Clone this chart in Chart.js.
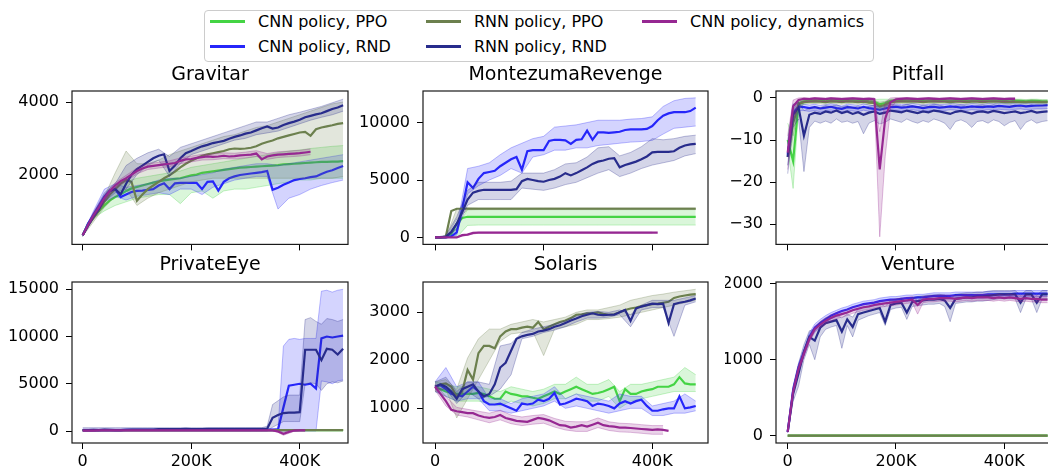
<!DOCTYPE html>
<html>
<head>
<meta charset="utf-8">
<script src="https://cdn.jsdelivr.net/npm/chart.js@4.4.1/dist/chart.umd.min.js"></script>
<style>
  html, body { margin: 0; padding: 0; background: #fff; width: 1048px; height: 469px; overflow: hidden; }
  body { position: relative; font-family: "DejaVu Sans", sans-serif; }
  canvas { position: absolute; }
  #legend { position: absolute; left: 204px; top: 10px; width: 668px; height: 50px;
            border: 1px solid #ccc; border-radius: 4px; background: #fff; }
  .lg-text { position: absolute; height: 20px; line-height: 20px; font-size: 16px; color: #000; white-space: nowrap; }
  .lg-line { position: absolute; height: 3px; width: 35px; }
</style>
</head>
<body>
<div id="legend"></div>
<script>
// series, in plotting order
const seriesNames = ["CNN policy, PPO", "CNN policy, RND", "RNN policy, PPO", "RNN policy, RND", "CNN policy, dynamics"];
const seriesRgb = ["68,212,68", "38,38,250", "108,128,78", "40,44,140", "150,40,146"];

const xTicks = [0, 200000, 400000];
const meanStep = 10000; // all mean curves are sampled every 10K frames

// ---------------- Gravitar ----------------
const gravYTicks = [2000, 4000];
const gravCnnPpo = [330,650,850,1000,1150,1290,1380,1460,1550,1620,1660,1700,1740,1780,1810,1840,1860,1880,1900,1940,1980,2000,2050,2070,2090,2110,2130,2150,2170,2190,2200,2210,2220,2230,2240,2250,2260,2280,2290,2300,2310,2320,2330,2340,2350,2350,2360,2360,2370];
const gravCnnRnd = [330,650,900,1150,1400,1560,1600,1380,1450,1520,1550,1560,1580,1600,1700,1760,1600,1760,1770,1770,1770,1770,1600,1800,1810,1560,1800,1900,1950,1990,2010,2030,2050,2070,2100,1580,1640,1720,1780,1850,1880,1900,1930,1950,2020,2080,2120,2180,2240];
const gravRnnPpo = [330,600,800,1000,1250,1450,1600,1750,1850,1800,1280,1450,1600,1700,1800,1900,1980,2080,2200,2300,2380,2450,2520,2560,2590,2620,2650,2700,2720,2710,2720,2740,2780,2850,2900,2940,3000,3040,3080,3120,3160,3180,3070,3250,3300,3330,3360,3400,3420];
const gravRnnRnd = [330,600,850,1050,1350,1550,1600,1460,1750,2000,2150,2250,2350,2450,2520,2560,2100,2250,2450,2590,2650,2720,2780,2820,2870,2900,2930,2990,3040,3080,3130,3160,3220,3280,3330,3270,3300,3370,3420,3460,3510,3580,3620,3660,3690,3750,3810,3850,3910];
const gravDyn = [330,620,880,1100,1350,1550,1700,1820,1900,2000,2100,2170,2220,2240,2260,2280,2300,2320,2380,2420,2430,2460,2480,2500,2490,2500,2520,2500,2510,2530,2540,2550,2580,2420,2500,2530,2550,2560,2570,2580,2590,2610,2630];
// bands every 20K
const gravCnnPpoLo = [300,800,1000,1150,1250,1350,1400,1450,1450,1200,1500,1550,1350,1550,1600,1600,1650,1700,1750,1800,1850,1850,1900,1900,1900];
const gravCnnPpoHi = [360,900,1350,1600,1800,1900,1950,2000,2050,2100,2200,2250,2300,2350,2400,2450,2500,2550,2600,2650,2680,2720,2750,2780,2800];
const gravCnnRndLo = [300,850,1250,1400,1300,1400,1450,1500,1450,1600,1600,1450,1650,1750,1850,1900,1950,1950,1050,1350,1450,1600,1700,1780,1850];
const gravCnnRndHi = [360,1000,1600,1750,1650,1700,1750,1850,1900,1900,1950,2000,2050,2150,2200,2250,2300,2300,2250,2300,2350,2400,2450,2500,2550];
const gravRnnPpoLo = [300,700,1100,1400,1600,1150,1350,1500,1600,1700,1800,1850,1900,1900,1900,1900,1900,1900,1900,1900,1900,1900,1900,1900,1950];
const gravRnnPpoHi = [360,900,1400,2050,2650,2300,2300,2400,2550,2650,2750,2850,2950,3050,3100,3200,3300,3350,3450,3550,3650,3750,3850,3950,4000];
const gravRnnRndLo = [300,800,1250,1500,1600,2000,2250,2400,1950,2300,2550,2650,2750,2850,2950,3000,3100,3150,3200,3300,3400,3500,3580,3650,3750];
const gravRnnRndHi = [360,950,1500,1750,2250,2450,2600,2700,2500,2750,2850,2950,3050,3150,3250,3350,3450,3450,3550,3650,3720,3800,3880,3980,4080];
const gravDynLo = [300,800,1270,1620,1820,2020,2140,2180,2220,2300,2350,2400,2410,2440,2430,2460,2500,2420,2470,2490,2510,2550];
const gravDynHi = [360,960,1430,1780,1980,2180,2300,2340,2380,2460,2510,2560,2570,2600,2590,2620,2660,2580,2630,2650,2670,2710];

// ---------------- MontezumaRevenge ----------------
const montYTicks = [0, 5000, 10000];
const montCnnPpo = [0,0,0,300,1200,1700,1800,1800,1800,1800,1800,1800,1800,1800,1800,1800,1800,1800,1800,1800,1800,1800,1800,1800,1800,1800,1800,1800,1800,1800,1800,1800,1800,1800,1800,1800,1800,1800,1800,1800,1800,1800,1800,1800,1800,1800,1800,1800,1800];
const montCnnRnd = [0,0,0,100,450,2500,4800,4300,5100,5600,5700,5800,6200,6500,6800,7000,5900,7500,7600,7600,7600,8400,8500,8500,8450,8150,8500,8550,9300,8500,9150,9150,9100,9150,9200,9350,9400,9400,9400,9450,9700,10200,10600,10800,10900,10900,10900,11000,11300];
const montRnnPpo = [0,0,100,2300,2500,2500,2500,2500,2500,2500,2500,2500,2500,2500,2500,2500,2500,2500,2500,2500,2500,2500,2500,2500,2500,2500,2500,2500,2500,2500,2500,2500,2500,2500,2500,2500,2500,2500,2500,2500,2500,2500,2500,2500,2500,2500,2500,2500,2500];
const montRnnRnd = [0,0,50,500,1200,2200,3300,3900,4050,4150,4150,4150,4150,4150,4150,4200,4900,5100,5000,4900,4850,5000,5100,5300,5600,5400,5600,5850,6100,6400,6600,6700,6850,6900,6100,6300,6450,6600,6800,7050,7400,7450,7450,7450,7500,7800,8000,8100,8150];
const montDyn = [0,0,0,0,0,200,250,400,420,420,420,420,420,420,420,420,420,420,420,420,420,420,420,420,420,420,420,420,420,420,420,420,420,420,420,420,420,420,420,420,420,420];
const montCnnPpoLo = [0,0,0,1050,1080,1080,1080,1080,1080,1080,1080,1080,1080,1080,1080,1080,1080,1080,1080,1080,1080,1080,1080,1080,1080];
const montCnnPpoHi = [0,0,800,2450,2500,2500,2500,2500,2500,2500,2500,2500,2500,2500,2500,2500,2500,2500,2500,2500,2500,2500,2500,2500,2500];
const montCnnRndLo = [0,0,200,3800,4500,5000,5400,6000,5600,7000,7200,7600,7600,7800,7800,8000,8100,8200,8300,8350,8450,9000,9500,9600,9700];
const montCnnRndHi = [0,0,800,6000,6200,6500,7200,7800,8200,8600,8800,9600,9700,9800,10000,10200,10200,10200,10300,10350,10500,11400,11900,12100,12150];
const montRnnPpoLo = [0,0,1600,2400,2420,2420,2420,2420,2420,2420,2420,2420,2420,2420,2420,2420,2420,2420,2420,2420,2420,2420,2420,2420,2420];
const montRnnPpoHi = [0,0,2500,2600,2580,2580,2580,2580,2580,2580,2580,2580,2580,2580,2580,2580,2580,2580,2580,2580,2580,2580,2580,2580,2580];
const montRnnRndLo = [0,0,700,2800,3300,3300,3300,3300,4300,4200,4100,4300,4600,4800,5200,5600,5900,5300,5600,6000,6300,6500,6700,7100,7300];
const montRnnRndHi = [0,200,1800,4100,4800,4800,4800,4900,5600,5600,5600,5900,6400,6500,7000,7800,7900,7100,7400,7900,8600,8500,8600,8800,8900];
const montDynLo = [0,0,0,200,380,380,380,380,380,380,380,380,380,380,380,380,380,380,380,380,380];
const montDynHi = [0,0,0,300,460,460,460,460,460,460,460,460,460,460,460,460,460,460,460,460,460];

// ---------------- Pitfall (bands every 10K) ----------------
const pitYTicks = [-30, -20, -10, 0];
const pitCnnPpo = [-10,-15,-1.2,-0.8,-0.7,-0.6,-0.6,-0.8,-0.5,-0.6,-0.7,-0.5,-0.6,-0.7,-0.6,-0.8,-0.9,-1.5,-1.2,-0.7,-0.6,-0.5,-0.6,-0.5,-0.6,-0.7,-0.6,-0.5,-0.6,-0.6,-0.7,-0.6,-0.6,-0.7,-0.6,-0.6,-0.7,-0.6,-0.6,-0.6,-0.7,-0.8,-0.7,-0.7,-0.8,-0.7,-0.7,-0.8,-0.8];
const pitCnnRnd = [-13.5,-3.5,-2,-2.2,-2.4,-2.2,-2.5,-2.3,-2.1,-2.4,-2.6,-2.2,-2.3,-2.5,-2.1,-2.4,-2.6,-2.8,-2.5,-2.2,-2.1,-2.3,-2.2,-2,-2.2,-2.4,-2.2,-2.1,-2.3,-2.2,-2,-2.1,-2.3,-2.2,-2,-2.1,-2.2,-2,-2.1,-1.9,-2,-2.1,-1.9,-1.8,-2,-1.9,-1.8,-1.8,-1.7];
const pitRnnPpo = [-14,-6,-1.5,-1,-0.9,-0.8,-0.9,-1,-0.8,-0.9,-1,-0.8,-0.9,-1,-0.9,-1.1,-1.2,-2,-1.6,-1,-0.9,-0.8,-0.9,-0.8,-0.9,-1,-0.9,-0.8,-0.9,-0.9,-1,-0.9,-0.9,-1,-0.9,-0.9,-1,-0.9,-0.9,-0.9,-1,-1,-0.9,-1,-1,-0.9,-1,-1,-1];
const pitRnnRnd = [-14,-4,-2.2,-9,-4,-3.5,-3.8,-3.2,-3.5,-3,-3.6,-3.2,-3.8,-3.4,-4,-3.5,-3.2,-3.8,-3.5,-3,-3.2,-3.4,-3,-3.3,-3.6,-3.2,-3.4,-3,-3.2,-3.5,-3.8,-3.3,-3.1,-3.4,-3.7,-3.3,-3.2,-3.5,-3.1,-3.3,-3.6,-3.4,-3.2,-3.6,-3.4,-3.1,-3.5,-3.3,-3.2];
const pitDyn = [-13,-2,-0.5,-0.2,-0.3,-0.1,-0.2,-0.3,-0.1,-0.2,-0.3,-0.2,-0.1,-0.2,-0.3,-0.2,-0.3,-17,-5,-1,-0.3,-0.2,-0.1,-0.2,-0.3,-0.2,-0.1,-0.2,-0.3,-0.2,-0.1,-0.2,-0.3,-0.2,-0.1,-0.2,-0.3,-0.2,-0.1,-0.2,-0.3,-0.2,-0.2];
const pitCnnPpoLo = [-12,-21.5,-3,-1.2,-1.1,-1,-1,-1.2,-0.9,-1,-1.1,-0.9,-1,-1.1,-1,-1.2,-1.4,-3,-2.2,-1.1,-1,-0.9,-1,-0.9,-1,-1.1,-1,-0.9,-1,-1,-1.1,-1,-1,-1.1,-1,-1,-1.1,-1,-1,-1,-1.1,-1.2,-1.1,-1.1,-1.2,-1.1,-1.1,-1.2,-1.2];
const pitCnnPpoHi = [-6,-9,-0.5,-0.4,-0.3,-0.2,-0.2,-0.4,-0.1,-0.2,-0.3,-0.1,-0.2,-0.3,-0.2,-0.4,-0.4,-0.3,-0.3,-0.3,-0.2,-0.1,-0.2,-0.1,-0.2,-0.3,-0.2,-0.1,-0.2,-0.2,-0.3,-0.2,-0.2,-0.3,-0.2,-0.2,-0.3,-0.2,-0.2,-0.2,-0.3,-0.4,-0.3,-0.3,-0.4,-0.3,-0.3,-0.4,-0.4];
const pitCnnRndLo = [-16,-6,-3,-3,-3.2,-3,-3.3,-3.1,-2.9,-3.2,-3.4,-3,-3.1,-3.3,-2.9,-3.2,-3.4,-3.8,-3.3,-3,-2.9,-3.1,-3,-2.8,-3,-3.2,-3,-2.9,-3.1,-3,-2.8,-2.9,-3.1,-3,-2.8,-2.9,-3,-2.8,-2.9,-2.7,-2.8,-2.9,-2.7,-2.6,-2.8,-2.7,-2.6,-2.6,-2.5];
const pitCnnRndHi = [-11,-1.5,-1.3,-1.5,-1.7,-1.5,-1.8,-1.6,-1.4,-1.7,-1.9,-1.5,-1.6,-1.8,-1.4,-1.7,-1.9,-2,-1.8,-1.5,-1.4,-1.6,-1.5,-1.3,-1.5,-1.7,-1.5,-1.4,-1.6,-1.5,-1.3,-1.4,-1.6,-1.5,-1.3,-1.4,-1.5,-1.3,-1.4,-1.2,-1.3,-1.4,-1.2,-1.1,-1.3,-1.2,-1.1,-1.1,-1];
const pitRnnPpoLo = [-16,-9,-2.5,-1.5,-1.4,-1.3,-1.4,-1.5,-1.3,-1.4,-1.5,-1.3,-1.4,-1.5,-1.4,-1.6,-1.8,-3,-2.4,-1.5,-1.4,-1.3,-1.4,-1.3,-1.4,-1.5,-1.4,-1.3,-1.4,-1.4,-1.5,-1.4,-1.4,-1.5,-1.4,-1.4,-1.5,-1.4,-1.4,-1.4,-1.5,-1.5,-1.4,-1.5,-1.5,-1.4,-1.5,-1.5,-1.5];
const pitRnnPpoHi = [-12,-3,-0.6,-0.5,-0.4,-0.3,-0.4,-0.5,-0.3,-0.4,-0.5,-0.3,-0.4,-0.5,-0.4,-0.6,-0.6,-1,-0.8,-0.5,-0.4,-0.3,-0.4,-0.3,-0.4,-0.5,-0.4,-0.3,-0.4,-0.4,-0.5,-0.4,-0.4,-0.5,-0.4,-0.4,-0.5,-0.4,-0.4,-0.4,-0.5,-0.5,-0.4,-0.5,-0.5,-0.4,-0.5,-0.5,-0.5];
const pitRnnRndLo = [-18,-7,-5,-17.5,-7,-5.5,-6,-5.5,-6,-5,-5.8,-5.5,-6,-5.6,-8.5,-6,-5.4,-6.2,-5.8,-5,-5.4,-5.8,-5,-5.6,-6,-5.4,-5.8,-5,-5.4,-6,-7.5,-5.6,-5.2,-5.8,-7,-5.6,-5.4,-6,-5.2,-5.6,-6.6,-5.8,-5.4,-7.5,-5.8,-5.2,-6,-5.6,-5.4];
const pitRnnRndHi = [-10,-1.5,-1,-3,-2.5,-2,-2.3,-1.8,-2,-1.6,-2.1,-1.8,-2.3,-1.9,-2.4,-2,-1.7,-2.3,-2,-1.6,-1.7,-1.9,-1.5,-1.8,-2.1,-1.7,-1.9,-1.5,-1.7,-2,-2.3,-1.8,-1.6,-1.9,-2.2,-1.8,-1.7,-2,-1.6,-1.8,-2.1,-1.9,-1.7,-2.1,-1.9,-1.6,-2,-1.8,-1.7];
const pitDynLo = [-17,-5,-1.2,-0.8,-0.9,-0.7,-0.8,-0.9,-0.7,-0.8,-0.9,-0.8,-0.7,-0.8,-0.9,-0.8,-0.9,-33,-14,-2.5,-0.9,-0.8,-0.7,-0.8,-0.9,-0.8,-0.7,-0.8,-0.9,-0.8,-0.7,-0.8,-0.9,-0.8,-0.7,-0.8,-0.9,-0.8,-0.7,-0.8,-0.9,-0.8,-0.8];
const pitDynHi = [-9,-0.5,0,0.1,0,0.1,0.1,0,0.1,0.1,0,0.1,0.1,0.1,0,0.1,0,-8,-1,0,0.1,0.1,0.1,0.1,0,0.1,0.1,0.1,0,0.1,0.1,0.1,0,0.1,0.1,0.1,0,0.1,0.1,0.1,0,0.1,0.1];

// ---------------- PrivateEye (bands every 10K) ----------------
const peYTicks = [0, 5000, 10000, 15000];
const peCnnPpo = [100,100,100,100,100,100,100,100,100,100,100,100,100,100,100,100,100,100,100,100,100,100,100,100,100,100,100,100,100,100,100,100,100,100,100,100,100,100,100,100,100,100,100,100,100,100,100,100,100];
const peCnnRnd = [80,80,90,90,100,100,100,100,110,110,110,120,120,120,130,130,130,130,140,140,140,140,150,150,150,150,150,150,160,160,160,160,160,160,160,160,150,2500,4800,4900,5000,4900,5000,4500,9800,10000,9900,10000,10100];
const peRnnPpo = [100,100,100,100,100,100,100,100,100,100,100,100,100,100,100,100,100,100,100,100,100,100,100,100,100,100,100,100,100,100,100,100,100,100,100,100,100,100,100,100,100,100,100,100,100,100,100,100,100];
const peRnnRnd = [100,100,120,100,150,120,100,100,130,150,150,150,150,160,200,200,200,200,200,220,200,200,200,220,220,220,220,220,220,220,220,220,220,220,250,1400,1700,1900,1950,1950,2000,8600,8600,8600,7500,8700,8600,8100,8700];
const peDyn = [50,50,50,60,60,60,60,60,60,60,60,60,60,60,60,60,60,60,60,60,60,60,60,60,60,60,60,60,60,60,60,60,60,60,60,60,-50,-300,-100,50,60,60];
const peCnnPpoLo = [40,40,40,40,40,40,40,40,40,40,40,40,40,40,40,40,40,40,40,40,40,40,40,40,40,40,40,40,40,40,40,40,40,40,40,40,40,40,40,40,40,40,40,40,40,40,40,40,40];
const peCnnPpoHi = [160,160,160,160,160,160,160,160,160,160,160,160,160,160,160,160,160,160,160,160,160,160,160,160,160,160,160,160,160,160,160,160,160,160,160,160,160,160,160,160,160,160,160,160,160,160,160,160,160];
const peCnnRndLo = [0,0,0,0,0,0,0,0,0,0,0,0,0,0,0,0,0,0,0,0,0,0,0,0,0,0,0,0,0,0,0,0,0,0,0,0,0,0,0,0,0,0,0,0,5300,5200,5000,5300,5400];
const peCnnRndHi = [200,200,200,200,200,200,200,200,200,200,200,200,200,200,200,200,200,200,200,200,200,200,200,200,200,200,200,200,200,200,200,200,200,200,200,200,300,9000,9700,9800,9700,9800,9800,9800,14800,14900,14700,14900,15000];
const peRnnPpoLo = [60,60,60,60,60,60,60,60,60,60,60,60,60,60,60,60,60,60,60,60,60,60,60,60,60,60,60,60,60,60,60,60,60,60,60,60,60,60,60,60,60,60,60,60,60,60,60,60,60];
const peRnnPpoHi = [140,140,140,140,140,140,140,140,140,140,140,140,140,140,140,140,140,140,140,140,140,140,140,140,140,140,140,140,140,140,140,140,140,140,140,140,140,140,140,140,140,140,140,140,140,140,140,140,140];
const peRnnRndLo = [0,0,0,0,0,0,0,0,0,0,0,0,0,0,0,0,0,0,0,0,0,0,0,0,0,0,0,0,0,0,0,0,0,0,0,400,700,1000,1000,1000,1000,5000,5100,5000,4300,5000,5200,5100,5300];
const peRnnRndHi = [350,350,350,350,350,350,350,350,350,350,350,350,350,350,350,350,350,350,350,350,350,350,350,350,350,350,350,350,350,350,350,350,350,350,500,2800,3200,3600,3800,3800,3800,11800,12000,11600,11300,11900,11800,11600,11800];
const peDynLo = [0,0,0,0,0,0,0,0,0,0,0,0,0,0,0,0,0,0,0,0,0,0,0,0,0,0,0,0,0,0,0,0,0,0,0,0,-150,-450,-250,-20,0,0];
const peDynHi = [120,120,120,120,120,120,120,120,120,120,120,120,120,120,120,120,120,120,120,120,120,120,120,120,120,120,120,120,120,120,120,120,120,120,120,120,50,-150,50,120,120,120];

// ---------------- Solaris ----------------
const solYTicks = [1000, 2000, 3000];
const solCnnPpo = [1450,1400,1350,1320,1300,1300,1300,1300,1320,1300,1250,1200,1200,1350,1300,1280,1250,1250,1220,1200,1250,1300,1350,1300,1350,1400,1450,1400,1350,1300,1320,1350,1400,1450,1150,1400,1300,1300,1350,1380,1400,1450,1450,1450,1500,1650,1520,1500,1500];
const solCnnRnd = [1450,1480,1400,1300,1280,1250,1350,1450,1350,1150,1080,1080,1100,1050,1000,950,1100,1080,1100,1180,1150,1200,1320,1080,1100,1150,1200,1180,1150,1050,1100,1080,1050,1000,1100,1150,1100,1150,1180,1050,950,950,980,1000,1000,1250,1000,1020,1050];
const solRnnPpo = [1450,1500,1520,1450,1250,1350,1800,1600,2150,2300,2300,2250,2500,2600,2650,2650,2680,2700,2680,2800,2650,2700,2750,2800,2830,2880,2950,2960,2980,2980,3000,2970,2950,2960,3000,3050,3080,3100,3130,3150,3170,3180,3200,3220,3300,3330,3350,3370,3380];
const solRnnRnd = [1450,1500,1450,1350,1200,1400,1450,1500,1350,1250,1300,1500,1850,1950,2200,2450,2500,2530,2550,2600,2620,2650,2700,2730,2780,2830,2870,2920,2950,2980,2950,2940,2950,2950,3000,3050,2820,3080,3120,3150,3180,3170,3180,2780,3170,3200,3220,3250,3290];
const solDyn = [1450,1300,1150,970,940,920,900,900,850,820,800,820,860,800,770,740,730,720,760,800,780,750,700,650,640,600,620,650,620,660,700,650,630,620,600,600,590,580,570,560,550,560,550,530];
const solCnnPpoLo = [1350,1250,1150,1150,1150,1100,1050,1150,1100,1050,1100,1200,1200,1300,1150,1150,1250,1000,1150,1200,1250,1300,1350,1350,1350];
const solCnnPpoHi = [1550,1500,1450,1450,1450,1400,1350,1450,1400,1350,1400,1500,1500,1650,1500,1500,1600,1350,1500,1500,1550,1600,1650,1850,1700];
const solCnnRndLo = [1350,1250,1150,1200,1200,950,950,900,950,1000,1050,1150,1000,1050,1000,950,900,950,1000,1000,850,850,900,900,950];
const solCnnRndHi = [1550,1850,1450,1550,1550,1200,1200,1100,1200,1250,1300,1450,1200,1300,1250,1200,1150,1300,1250,1250,1050,1100,1150,1300,1150];
const solRnnPpoLo = [1350,1400,800,1200,1600,2000,2400,2550,2580,2600,2100,2650,2700,2750,2850,2850,2870,2900,2950,3000,3050,3100,3150,3200,3250];
const solRnnPpoHi = [1550,1600,1400,2050,2450,2650,2650,2750,2800,2850,2800,2850,2900,3000,3050,3050,3100,3150,3250,3300,3350,3380,3420,3450,3480];
const solRnnRndLo = [1400,1400,1100,1350,1200,1250,1400,1700,2450,2500,2580,2630,2700,2800,2880,2880,2900,2950,2700,3050,3100,3100,2500,3150,3220];
const solRnnRndHi = [1550,1650,1350,1550,1550,1500,2300,2350,2580,2650,2700,2750,2820,2920,3000,3020,3000,3050,2950,3150,3250,3250,3250,3300,3350];
const solDynLo = [1380,1050,860,820,760,700,760,680,640,670,690,610,550,520,520,600,540,510,500,480,460,460];
const solDynHi = [1500,1250,1020,980,940,900,960,860,820,850,870,790,730,720,720,800,720,690,680,660,640,640];

// ---------------- Venture (bands every 10K) ----------------
const venYTicks = [0, 1000, 2000];
const venCnnPpo = [0,0,0,0,0,0,0,0,0,0,0,0,0,0,0,0,0,0,0,0,0,0,0,0,0,0,0,0,0,0,0,0,0,0,0,0,0,0,0,0,0,0,0,0,0,0,0,0,0];
const venCnnRnd = [50,600,900,1100,1300,1420,1480,1530,1580,1610,1640,1660,1690,1710,1730,1740,1750,1770,1780,1790,1790,1800,1810,1810,1820,1820,1830,1840,1840,1840,1840,1850,1850,1850,1850,1850,1850,1860,1860,1860,1860,1860,1870,1870,1870,1870,1870,1870,1870];
const venRnnPpo = [0,0,0,0,0,0,0,0,0,0,0,0,0,0,0,0,0,0,0,0,0,0,0,0,0,0,0,0,0,0,0,0,0,0,0,0,0,0,0,0,0,0,0,0,0,0,0,0,0];
const venRnnRnd = [50,550,820,1100,1300,1250,1420,1480,1500,1520,1370,1530,1430,1600,1620,1640,1660,1680,1500,1720,1740,1750,1620,1760,1770,1780,1790,1790,1800,1780,1680,1800,1810,1820,1820,1830,1830,1840,1850,1860,1860,1860,1860,1750,1860,1860,1750,1860,1860];
const venDyn = [50,580,880,1080,1270,1400,1460,1510,1550,1580,1600,1620,1650,1670,1690,1700,1720,1730,1740,1750,1760,1770,1780,1790,1720,1790,1800,1800,1810,1810,1810,1800,1810,1820,1810,1820,1820,1820,1810,1820,1810,1820,1810,1800,1810,1800,1800,1790,1790];
const venCnnPpoLo = [-8,-8,-8,-8,-8,-8,-8,-8,-8,-8,-8,-8,-8,-8,-8,-8,-8,-8,-8,-8,-8,-8,-8,-8,-8,-8,-8,-8,-8,-8,-8,-8,-8,-8,-8,-8,-8,-8,-8,-8,-8,-8,-8,-8,-8,-8,-8,-8,-8];
const venCnnPpoHi = [8,8,8,8,8,8,8,8,8,8,8,8,8,8,8,8,8,8,8,8,8,8,8,8,8,8,8,8,8,8,8,8,8,8,8,8,8,8,8,8,8,8,8,8,8,8,8,8,8];
const venCnnRndLo = [40,550,850,1050,1250,1370,1430,1480,1540,1570,1600,1620,1650,1670,1690,1700,1710,1730,1740,1750,1750,1760,1770,1770,1780,1780,1790,1800,1800,1800,1800,1810,1810,1810,1810,1810,1810,1820,1820,1820,1820,1820,1830,1830,1830,1830,1830,1830,1830];
const venCnnRndHi = [60,650,950,1150,1350,1470,1530,1580,1620,1650,1680,1700,1730,1750,1770,1780,1790,1810,1820,1830,1830,1840,1850,1850,1860,1860,1870,1880,1880,1880,1880,1890,1890,1890,1890,1890,1890,1900,1900,1900,1900,1900,1910,1910,1910,1910,1910,1910,1910];
const venRnnPpoLo = [-8,-8,-8,-8,-8,-8,-8,-8,-8,-8,-8,-8,-8,-8,-8,-8,-8,-8,-8,-8,-8,-8,-8,-8,-8,-8,-8,-8,-8,-8,-8,-8,-8,-8,-8,-8,-8,-8,-8,-8,-8,-8,-8,-8,-8,-8,-8,-8,-8];
const venRnnPpoHi = [8,8,8,8,8,8,8,8,8,8,8,8,8,8,8,8,8,8,8,8,8,8,8,8,8,8,8,8,8,8,8,8,8,8,8,8,8,8,8,8,8,8,8,8,8,8,8,8,8];
const venRnnRndLo = [40,450,650,1000,1200,1000,1300,1400,1430,1450,1150,1450,1300,1520,1550,1580,1600,1620,1450,1660,1680,1690,1530,1700,1710,1720,1730,1730,1740,1700,1500,1740,1750,1760,1760,1770,1770,1780,1790,1800,1800,1800,1800,1620,1800,1800,1620,1800,1800];
const venRnnRndHi = [60,650,950,1200,1380,1400,1500,1550,1570,1590,1550,1600,1560,1670,1690,1710,1720,1740,1700,1780,1800,1810,1760,1820,1830,1840,1850,1850,1860,1850,1800,1860,1870,1880,1880,1890,1890,1900,1910,1910,1910,1910,1910,1850,1910,1910,1850,1910,1910];
const venDynLo = [40,540,840,1040,1230,1360,1420,1470,1510,1540,1560,1580,1610,1630,1650,1660,1680,1690,1700,1710,1720,1730,1740,1750,1600,1750,1760,1760,1770,1770,1770,1760,1770,1780,1770,1780,1780,1780,1770,1780,1770,1780,1770,1760,1770,1760,1760,1750,1750];
const venDynHi = [60,620,920,1120,1310,1440,1500,1550,1590,1620,1640,1660,1690,1710,1730,1740,1760,1770,1780,1790,1800,1810,1820,1830,1780,1830,1840,1840,1850,1850,1850,1840,1850,1860,1850,1860,1860,1860,1850,1860,1850,1860,1850,1840,1850,1840,1840,1830,1830];

// ---------------- layout ----------------
const panels = [
  { title: "Gravitar", left: 0, top: 64, width: 352, height: 197, yw: 72, xh: 8, gap: 5, showX: false,
    xMin: -19700, xMax: 489000, yMin: 76, yMax: 4305, yTicks: gravYTicks, bandStep: 20000,
    means: [gravCnnPpo, gravCnnRnd, gravRnnPpo, gravRnnRnd, gravDyn],
    lows: [gravCnnPpoLo, gravCnnRndLo, gravRnnPpoLo, gravRnnRndLo, gravDynLo],
    highs: [gravCnnPpoHi, gravCnnRndHi, gravRnnPpoHi, gravRnnRndHi, gravDynHi] },
  { title: "MontezumaRevenge", left: 350, top: 64, width: 362, height: 197, yw: 73, xh: 8, gap: 5, showX: false,
    xMin: -22100, xMax: 502600, yMin: -604, yMax: 12747, yTicks: montYTicks, bandStep: 20000,
    means: [montCnnPpo, montCnnRnd, montRnnPpo, montRnnRnd, montDyn],
    lows: [montCnnPpoLo, montCnnRndLo, montRnnPpoLo, montRnnRndLo, montDynLo],
    highs: [montCnnPpoHi, montCnnRndHi, montRnnPpoHi, montRnnRndHi, montDynHi] },
  { title: "Pitfall", left: 725, top: 64, width: 339, height: 197, yw: 51, xh: 8, gap: 5, showX: false,
    xMin: -21600, xMax: 502900, yMin: -34.8, yMax: 1.65, yTicks: pitYTicks, bandStep: 10000,
    means: [pitCnnPpo, pitCnnRnd, pitRnnPpo, pitRnnRnd, pitDyn],
    lows: [pitCnnPpoLo, pitCnnRndLo, pitRnnPpoLo, pitRnnRndLo, pitDynLo],
    highs: [pitCnnPpoHi, pitCnnRndHi, pitRnnPpoHi, pitRnnRndHi, pitDynHi] },
  { title: "PrivateEye", left: 0, top: 254, width: 352, height: 219, yw: 72, xh: 30, gap: 6, showX: true,
    xMin: -19700, xMax: 489000, yMin: -1270, yMax: 15773, yTicks: peYTicks, bandStep: 10000,
    means: [peCnnPpo, peCnnRnd, peRnnPpo, peRnnRnd, peDyn],
    lows: [peCnnPpoLo, peCnnRndLo, peRnnPpoLo, peRnnRndLo, peDynLo],
    highs: [peCnnPpoHi, peCnnRndHi, peRnnPpoHi, peRnnRndHi, peDynHi] },
  { title: "Solaris", left: 350, top: 254, width: 362, height: 219, yw: 73, xh: 30, gap: 6, showX: true,
    xMin: -22100, xMax: 502600, yMin: 278, yMax: 3632, yTicks: solYTicks, bandStep: 20000,
    means: [solCnnPpo, solCnnRnd, solRnnPpo, solRnnRnd, solDyn],
    lows: [solCnnPpoLo, solCnnRndLo, solRnnPpoLo, solRnnRndLo, solDynLo],
    highs: [solCnnPpoHi, solCnnRndHi, solRnnPpoHi, solRnnRndHi, solDynHi] },
  { title: "Venture", left: 725, top: 254, width: 339, height: 219, yw: 51, xh: 30, gap: 6, showX: true,
    xMin: -21600, xMax: 502900, yMin: -96, yMax: 2022, yTicks: venYTicks, bandStep: 10000,
    means: [venCnnPpo, venCnnRnd, venRnnPpo, venRnnRnd, venDyn],
    lows: [venCnnPpoLo, venCnnRndLo, venRnnPpoLo, venRnnRndLo, venDynLo],
    highs: [venCnnPpoHi, venCnnRndHi, venRnnPpoHi, venRnnRndHi, venDynHi] },
];

Chart.defaults.font.family = "'DejaVu Sans', sans-serif";
Chart.defaults.color = "#000";

const pts = (arr, step) => arr.map((v, i) => ({ x: i * step, y: v }));
const fmtX = v => (v === 0 ? "0" : v / 1000 + "K");
const fmtY = v => (v < 0 ? "\u2212" + Math.abs(v) : String(v));

// matplotlib-style box around the axes
const frame = {
  id: "frame",
  afterDatasetsDraw(chart) {
    const { ctx, chartArea: a } = chart;
    ctx.save();
    ctx.strokeStyle = "#1a1a1a";
    ctx.lineWidth = 1.2;
    ctx.strokeRect(a.left, a.top, a.right - a.left, a.bottom - a.top);
    ctx.restore();
  },
};

panels.forEach(p => {
  const cv = document.createElement("canvas");
  cv.width = p.width;
  cv.height = p.height;
  cv.style.left = p.left + "px";
  cv.style.top = p.top + "px";
  document.body.appendChild(cv);

  const datasets = [];
  p.means.forEach((m, k) => {
    const c = seriesRgb[k];
    datasets.push({ data: pts(p.lows[k], p.bandStep), borderColor: `rgba(${c},0.3)`, borderWidth: 1, fill: false });
    datasets.push({ data: pts(p.highs[k], p.bandStep), borderColor: `rgba(${c},0.3)`, borderWidth: 1,
                    fill: "-1", backgroundColor: `rgba(${c},0.2)` });
    datasets.push({ data: pts(m, meanStep), borderColor: `rgb(${c})`, borderWidth: 2.2, fill: false });
  });
  datasets.forEach((d, i) => { d.order = 100 - i; d.pointRadius = 0; d.tension = 0; });

  new Chart(cv, {
    type: "line",
    data: { datasets },
    options: {
      responsive: false,
      animation: false,
      devicePixelRatio: 1,
      events: [],
      layout: { padding: { right: 4 } },
      plugins: {
        legend: { display: false },
        tooltip: { enabled: false },
        title: {
          display: true, text: p.title, fullSize: false, color: "#000",
          font: { size: 19, weight: "normal", lineHeight: "22px" },
          padding: { top: 0, bottom: p.gap },
        },
      },
      scales: {
        x: {
          type: "linear", min: p.xMin, max: p.xMax,
          afterBuildTicks: a => { a.ticks = xTicks.map(v => ({ value: v })); },
          afterFit: a => { a.height = p.xh; },
          border: { display: false },
          grid: { drawOnChartArea: false, drawTicks: true, tickLength: 6, color: "#000" },
          ticks: { display: p.showX, autoSkip: false, maxRotation: 0, padding: 3, color: "#000",
                   font: { size: 16 }, callback: fmtX },
        },
        y: {
          min: p.yMin, max: p.yMax,
          afterBuildTicks: a => { a.ticks = p.yTicks.map(v => ({ value: v })); },
          afterFit: a => { a.width = p.yw; },
          border: { display: false },
          grid: { drawOnChartArea: false, drawTicks: true, tickLength: 6, color: "#000" },
          ticks: { autoSkip: false, padding: 7, color: "#000", font: { size: 16 }, callback: fmtY },
        },
      },
    },
    plugins: [frame],
  });
});

// legend (three columns, filled column by column)
const legend = document.getElementById("legend");
const colX = [5, 221, 437];
const rowY = [10.7, 35.7];
seriesNames.forEach((name, k) => {
  const col = Math.floor(k / 2), row = k % 2;
  const line = document.createElement("div");
  line.className = "lg-line";
  line.style.left = colX[col] + "px";
  line.style.top = (rowY[row] - 1.5) + "px";
  line.style.background = `rgb(${seriesRgb[k]})`;
  legend.appendChild(line);
  const txt = document.createElement("div");
  txt.className = "lg-text";
  txt.style.left = (colX[col] + 48) + "px";
  txt.style.top = (rowY[row] - 10) + "px";
  txt.textContent = name;
  legend.appendChild(txt);
});
</script>
</body>
</html>
